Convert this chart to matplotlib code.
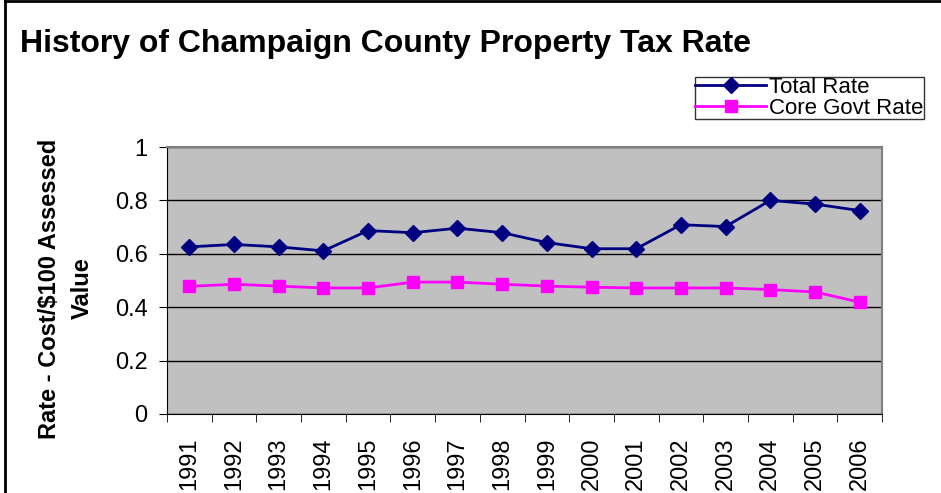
import matplotlib.pyplot as plt
from matplotlib.lines import Line2D

plt.rcParams['font.family'] = ['Liberation Sans', 'DejaVu Sans']

years = ['1991', '1992', '1993', '1994', '1995', '1996', '1997', '1998',
         '1999', '2000', '2001', '2002', '2003', '2004', '2005', '2006']
total_rate = [0.626, 0.635, 0.626, 0.611, 0.687, 0.679, 0.696, 0.679,
              0.642, 0.619, 0.619, 0.709, 0.702, 0.800, 0.786, 0.762]
core_rate = [0.478, 0.486, 0.479, 0.472, 0.472, 0.494, 0.494, 0.486,
             0.479, 0.475, 0.472, 0.472, 0.472, 0.466, 0.457, 0.419]
y_ticks = [0, 0.2, 0.4, 0.6, 0.8, 1]
y_labels = ['0', '0.2', '0.4', '0.6', '0.8', '1']

fig = plt.figure(figsize=(9.41, 4.93), dpi=100)
ax = fig.add_axes([167/941, 1-414/493, 715/941, 267/493])
ax.set_facecolor('#C0C0C0')

x = list(range(len(years)))
ax.plot(x, total_rate, color='#000080', lw=2, marker='D', ms=8,
        label='Total Rate', zorder=3)
ax.plot(x, core_rate, color='#FF00FF', lw=2, marker='s', ms=9,
        label='Core Govt Rate', zorder=3)

ax.set_xlim(-0.5, len(years) - 0.5)
ax.set_ylim(0, 1)
ax.set_yticks(y_ticks)
ax.set_yticklabels(y_labels, fontsize=17)
ax.yaxis.grid(True, color='black', lw=1)
ax.set_axisbelow(True)

ax.set_xticks(x)
ax.set_xticklabels(years, rotation=90, fontsize=17)
ax.set_xticks([i - 0.5 for i in range(len(years) + 1)], minor=True)
ax.tick_params(axis='x', which='major', length=0, pad=17)
ax.tick_params(axis='x', which='minor', length=6, direction='out', color='black')
ax.tick_params(axis='y', length=6, direction='out', color='black', pad=8)

for side in ['top', 'right']:
    ax.spines[side].set_color('#808080')
    ax.spines[side].set_linewidth(1.5)
for side in ['left', 'bottom']:
    ax.spines[side].set_color('black')

ax.set_ylabel('Rate - Cost/$100 Assessed\nValue', fontsize=17, fontweight='bold',
              linespacing=1.5)
ax.yaxis.set_label_coords(-0.103, 0.47)

fig.text(20/941, 1-52/493, 'History of Champaign County Property Tax Rate',
         fontsize=23, fontweight='bold', va='baseline', ha='left')

leg = fig.legend(loc='upper left', bbox_to_anchor=(695/941, 1-77/493),
                 fontsize=16, frameon=True, fancybox=False, edgecolor='black',
                 handlelength=3.2, handletextpad=0.15, borderpad=0.0,
                 labelspacing=0.0, borderaxespad=0)
leg.get_frame().set_linewidth(1)

fig.add_artist(Line2D([5/941, 5/941], [0, 1-1/493], color='black', lw=2,
                      transform=fig.transFigure))
fig.add_artist(Line2D([5/941, 1], [1-1/493, 1-1/493], color='black', lw=2,
                      transform=fig.transFigure))

fig.savefig('out.png', dpi=100)
